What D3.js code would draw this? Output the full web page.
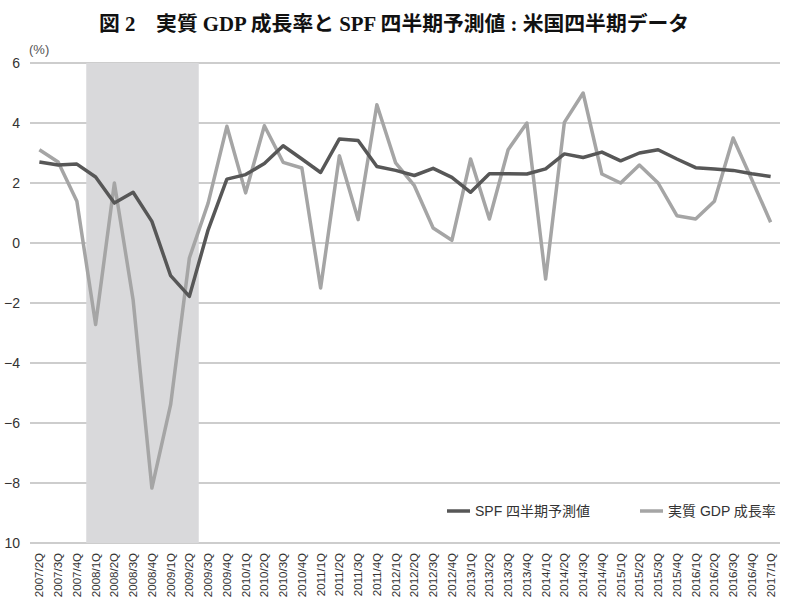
<!DOCTYPE html>
<html>
<head>
<meta charset="utf-8">
<script src="https://cdn.jsdelivr.net/npm/d3@7"></script>
<style>
  body { margin: 0; background: #fff; }
  svg { display: block; }
</style>
</head>
<body>
<svg width="787" height="604"></svg>
<script>
const quarters = [
  "2007/2Q","2007/3Q","2007/4Q",
  "2008/1Q","2008/2Q","2008/3Q","2008/4Q",
  "2009/1Q","2009/2Q","2009/3Q","2009/4Q",
  "2010/1Q","2010/2Q","2010/3Q","2010/4Q",
  "2011/1Q","2011/2Q","2011/3Q","2011/4Q",
  "2012/1Q","2012/2Q","2012/3Q","2012/4Q",
  "2013/1Q","2013/2Q","2013/3Q","2013/4Q",
  "2014/1Q","2014/2Q","2014/3Q","2014/4Q",
  "2015/1Q","2015/2Q","2015/3Q","2015/4Q",
  "2016/1Q","2016/2Q","2016/3Q","2016/4Q",
  "2017/1Q"
];

// SPF quarterly forecast
const spf = [2.7, 2.6, 2.63, 2.2, 1.33, 1.69, 0.72, -1.09, -1.78, 0.44, 2.13,
  2.28, 2.65, 3.24, 2.8, 2.35, 3.47, 3.42, 2.55, 2.42, 2.25, 2.49, 2.19,
  1.69, 2.31, 2.31, 2.3, 2.47, 2.97, 2.85, 3.03, 2.74, 3.0, 3.11, 2.8,
  2.51, 2.47, 2.42, 2.31, 2.22];

// real GDP growth
const gdp = [3.11, 2.7, 1.39, -2.72, 2.0, -1.9, -8.17, -5.39, -0.5, 1.33, 3.89,
  1.67, 3.91, 2.69, 2.5, -1.5, 2.91, 0.78, 4.61, 2.67, 1.91, 0.5, 0.09,
  2.8, 0.8, 3.11, 4.0, -1.2, 4.02, 5.0, 2.3, 2.0, 2.6, 2.0, 0.91,
  0.8, 1.39, 3.5, 2.11, 0.69];

const yTicks = [6, 4, 2, 0, -2, -4, -6, -8, -10];
const recession = ["2008/1Q", "2009/2Q"];
const seriesNames = ["SPF 四半期予測値", "実質 GDP 成長率"];
const colors = ["#575757", "#a5a5a5"];

const svg = d3.select("svg"),
      margin = {top: 63, right: 7, bottom: 61, left: 30},
      width = +svg.attr("width") - margin.left - margin.right,
      height = +svg.attr("height") - margin.top - margin.bottom;

svg.append("text")
  .attr("x", 394)
  .attr("y", 31)
  .attr("text-anchor", "middle")
  .style("font-family", "'Liberation Serif', 'Noto Sans CJK JP', serif")
  .style("font-size", "20.8px")
  .style("font-weight", "bold")
  .attr("fill", "#111")
  .text("図 2　実質 GDP 成長率と SPF 四半期予測値 : 米国四半期データ");

const g = svg.append("g").attr("transform", `translate(${margin.left},${margin.top})`);

const x = d3.scaleBand().domain(quarters).range([0, width]);
const y = d3.scaleLinear().domain([-10, 6]).range([height, 0]);

// gridlines
g.append("g")
  .selectAll("line")
  .data(yTicks)
  .join("line")
    .attr("x1", 0)
    .attr("x2", width)
    .attr("y1", d => y(d))
    .attr("y2", d => y(d))
    .attr("stroke", "#bdbdbd")
    .attr("stroke-width", 1.3);

// recession shading
g.append("rect")
  .attr("x", x(recession[0]))
  .attr("y", 0)
  .attr("width", x(recession[1]) + x.bandwidth() - x(recession[0]))
  .attr("height", height)
  .attr("fill", "#d9d9db");

// y tick labels (the bottom one's minus sign falls off the page in the original)
g.append("g")
  .selectAll("text")
  .data(yTicks)
  .join("text")
    .attr("x", -10)
    .attr("y", d => y(d))
    .attr("dy", "0.35em")
    .attr("text-anchor", "end")
    .style("font-family", "'Liberation Sans', Arial, sans-serif")
    .style("font-size", "14px")
    .attr("fill", "#333")
    .text(d => d === -10 ? "10" : d < 0 ? "\u2212" + Math.abs(d) : d);

svg.append("text")
  .attr("x", 29)
  .attr("y", 54)
  .style("font-family", "'Liberation Sans', 'Noto Sans CJK JP', sans-serif")
  .style("font-size", "13px")
  .attr("fill", "#555")
  .text("(%)");

// x tick labels
g.append("g")
  .selectAll("text")
  .data(quarters)
  .join("text")
    .attr("transform", d => `translate(${x(d) + x.bandwidth() / 2 + 4},${height + 10}) rotate(-90)`)
    .attr("text-anchor", "end")
    .style("font-family", "'Liberation Sans', Arial, sans-serif")
    .style("font-size", "11.5px")
    .attr("fill", "#333")
    .text(d => d);

const line = d3.line()
  .x((d, i) => x(quarters[i]) + x.bandwidth() / 2)
  .y(d => y(d));

[gdp, spf].forEach((s, k) => {
  g.append("path")
    .datum(s)
    .attr("fill", "none")
    .attr("stroke", k === 0 ? colors[1] : colors[0])
    .attr("stroke-width", 3.5)
    .attr("stroke-linejoin", "round")
    .attr("d", line);
});

// legend
const legendX = [447, 640];
seriesNames.forEach((name, i) => {
  const lg = svg.append("g").attr("transform", `translate(${legendX[i]},511)`);
  lg.append("line")
    .attr("x1", 0).attr("x2", 23)
    .attr("stroke", colors[i])
    .attr("stroke-width", 3.5);
  lg.append("text")
    .attr("x", 28)
    .attr("dy", "0.35em")
    .style("font-family", "'Liberation Sans', 'Noto Sans CJK JP', sans-serif")
    .style("font-size", "14px")
    .attr("fill", "#333")
    .text(name);
});
</script>
</body>
</html>
